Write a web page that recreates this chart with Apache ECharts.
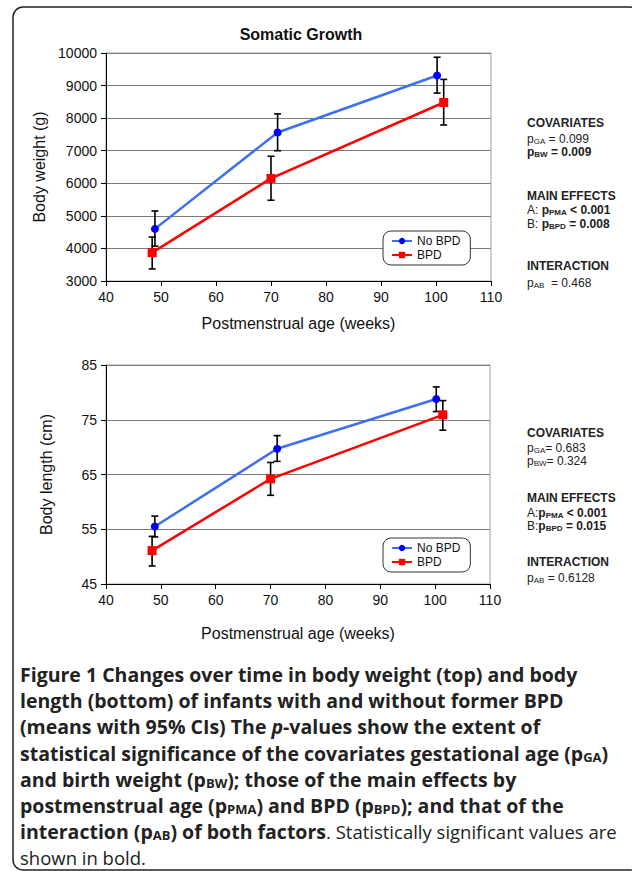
<!DOCTYPE html>
<html><head><meta charset="utf-8">
<script src="https://cdn.jsdelivr.net/npm/echarts@6/dist/echarts.min.js"></script>
<style>html,body{margin:0;padding:0;background:#fff}#c{width:632px;height:871px}</style>
</head><body><div id="c"></div>
<script>
// ---- data ----
const xTicksMin = 40, xTicksMax = 110, xTickStep = 10;
const weightTicks = { min: 3000, max: 10000, step: 1000 };
const lengthTicks = { min: 45, max: 85, step: 10 };
const seriesNames = ['No BPD', 'BPD'];
const ageNoBPD = [48.9, 71.2, 100.2];
const ageBPD = [48.4, 70.0, 101.4];
const weightNoBPD = [4600, 7560, 9310];
const weightNoBPDLow = [4070, 7000, 8770];
const weightNoBPDHigh = [5150, 8130, 9870];
const weightBPD = [3870, 6150, 8480];
const weightBPDLow = [3370, 5480, 7790];
const weightBPDHigh = [4350, 6830, 9190];
const lengthNoBPD = [55.5, 69.7, 78.8];
const lengthNoBPDLow = [53.6, 67.4, 76.5];
const lengthNoBPDHigh = [57.4, 72.1, 81.0];
const lengthBPD = [51.1, 64.2, 75.9];
const lengthBPDLow = [48.3, 61.2, 73.1];
const lengthBPDHigh = [53.7, 67.2, 78.5];

const F = '"Liberation Sans", Arial, sans-serif';
const CF = '"Open Sans", sans-serif';
const zip = (a, b) => a.map((v, i) => [v, b[i]]);
const zip3 = (a, b, c) => a.map((v, i) => [v, b[i], c[i]]);

function errRender(params, api) {
  const x = api.value(0), lo = api.value(1), hi = api.value(2);
  const p1 = api.coord([x, lo]), p2 = api.coord([x, hi]);
  const w = 3.5, st = { stroke: '#000', lineWidth: 1.6 };
  return { type: 'group', children: [
    { type: 'line', shape: { x1: p1[0], y1: p1[1], x2: p2[0], y2: p2[1] }, style: st },
    { type: 'line', shape: { x1: p1[0] - w, y1: p1[1], x2: p1[0] + w, y2: p1[1] }, style: st },
    { type: 'line', shape: { x1: p2[0] - w, y1: p2[1], x2: p2[0] + w, y2: p2[1] }, style: st }
  ]};
}

function xAx(gi, gap) {
  return { type: 'value', gridIndex: gi, min: xTicksMin, max: xTicksMax, interval: xTickStep,
    axisLine: { show: true, onZero: false, lineStyle: { color: '#000', width: 1 } },
    axisTick: { show: true, length: 5, lineStyle: { color: '#000' } },
    axisLabel: { fontSize: 14, color: '#111', margin: 9, fontFamily: F, formatter: v => String(v) },
    splitLine: { show: false },
    name: 'Postmenstrual age (weeks)', nameLocation: 'middle', nameGap: gap,
    nameTextStyle: { fontSize: 16, color: '#111', fontFamily: F } };
}
function yAx(gi, t, name) {
  return { type: 'value', gridIndex: gi, min: t.min, max: t.max, interval: t.step,
    axisLine: { show: true, onZero: false, lineStyle: { color: '#000', width: 1 } },
    axisTick: { show: true, length: 5, lineStyle: { color: '#000' } },
    axisLabel: { fontSize: 14, color: '#111', margin: 9, fontFamily: F, formatter: v => String(v) },
    splitLine: { show: true, lineStyle: { color: '#7a7a7a', width: 1 } },
    name: name, nameLocation: 'middle', nameGap: 52, nameRotate: 90,
    nameTextStyle: { fontSize: 16, color: '#111', fontFamily: F } };
}
function lineS(name, gi, xs, ys) {
  const blue = name === 'No BPD';
  return { type: 'line', name: name, xAxisIndex: gi, yAxisIndex: gi, data: zip(xs, ys),
    symbol: blue ? 'circle' : 'rect', symbolSize: blue ? 8 : 9,
    lineStyle: { color: blue ? '#3d6ff5' : '#ff0000', width: 2.5 },
    itemStyle: { color: blue ? '#0000ff' : '#ff0000' }, z: 4, animation: false };
}
function errS(gi, xs, lo, hi) {
  return { type: 'custom', xAxisIndex: gi, yAxisIndex: gi, data: zip3(xs, lo, hi),
    renderItem: errRender, z: 3, silent: true, animation: false,
    encode: { x: 0, y: [1, 2] } };
}
function legendAt(top) {
  return { orient: 'vertical', left: 383, top: top, data: seriesNames, selectedMode: false,
    itemWidth: 20, itemHeight: 8, itemGap: 2, padding: [4, 10, 4, 8],
    borderColor: '#333', borderWidth: 1, borderRadius: 8, backgroundColor: '#fff',
    textStyle: { fontSize: 12, color: '#111', fontFamily: F } };
}
function txt(x, y, text, rich, ff) {
  return { type: 'text', x: x, y: y, style: { text: text, rich: rich, verticalAlign: 'middle', align: 'left',
    fontFamily: ff || F, fontSize: 12, fill: '#222' } };
}
const annRich = {
  h: { fontFamily: F, fontSize: 12, fontWeight: 'bold', color: '#222' },
  r: { fontFamily: F, fontSize: 12, color: '#222', verticalAlign: 'bottom', lineHeight: 14 },
  rs: { fontFamily: F, fontSize: 8, color: '#222', verticalAlign: 'bottom', lineHeight: 11 },
  b: { fontFamily: F, fontSize: 12, fontWeight: 'bold', color: '#222', verticalAlign: 'bottom', lineHeight: 14 },
  bs: { fontFamily: F, fontSize: 8, fontWeight: 'bold', color: '#222', verticalAlign: 'bottom', lineHeight: 11 }
};
const CB = 19.5, CR = 18.5;
const capRich = {
  b: { fontFamily: CF, fontSize: CB, fontWeight: 'bold', color: '#231f20', lineHeight: 22, verticalAlign: 'bottom' },
  bi: { fontFamily: CF, fontSize: CB, fontWeight: 'bold', fontStyle: 'italic', color: '#231f20', lineHeight: 22, verticalAlign: 'bottom' },
  bs: { fontFamily: CF, fontSize: 13, fontWeight: 'bold', color: '#231f20', lineHeight: 16, verticalAlign: 'bottom' },
  r: { fontFamily: CF, fontSize: CR, color: '#2b2728', lineHeight: 22, verticalAlign: 'bottom' }
};
const capLines = [
  '{b|Figure 1 Changes over time in body weight (top) and body}',
  '{b|length (bottom) of infants with and without former BPD}',
  '{b|(means with 95% CIs) The }{bi|p}{b|-values show the extent of}',
  '{b|statistical significance of the covariates gestational age (p}{bs|GA}{b|)}',
  '{b|and birth weight (p}{bs|BW}{b|); those of the main effects by}',
  '{b|postmenstrual age (p}{bs|PMA}{b|) and BPD (p}{bs|BPD}{b|); and that of the}',
  '{b|interaction (p}{bs|AB}{b|) of both factors}{r|. Statistically significant values are}',
  '{r|shown in bold.}'
];
const capY = [673, 699, 725, 752, 778, 804, 830, 856];

const graphics = [
  { type: 'rect', shape: { x: 13, y: 7, width: 627, height: 863, r: 10 }, style: { fill: 'none', stroke: '#222', lineWidth: 1.5 }, z: 10 },
  txt(527, 123, '{h|COVARIATES}', annRich),
  txt(527, 138, '{r|p}{rs|GA}{r| = 0.099}', annRich),
  txt(527, 151, '{b|p}{bs|BW}{b| = 0.009}', annRich),
  txt(527, 196, '{h|MAIN EFFECTS}', annRich),
  txt(527, 209, '{r|A: }{b|p}{bs|PMA}{b| < 0.001}', annRich),
  txt(527, 223, '{r|B: }{b|p}{bs|BPD}{b| = 0.008}', annRich),
  txt(527, 266, '{h|INTERACTION}', annRich),
  txt(527, 282, '{r|p}{rs|AB}{r|  = 0.468}', annRich),
  txt(527, 433, '{h|COVARIATES}', annRich),
  txt(527, 447, '{r|p}{rs|GA}{r|= 0.683}', annRich),
  txt(527, 460, '{r|p}{rs|BW}{r|= 0.324}', annRich),
  txt(527, 498, '{h|MAIN EFFECTS}', annRich),
  txt(527, 512, '{r|A:}{b|p}{bs|PMA}{b| < 0.001}', annRich),
  txt(527, 525, '{r|B:}{b|p}{bs|BPD}{b| = 0.015}', annRich),
  txt(527, 562, '{h|INTERACTION}', annRich),
  txt(527, 577, '{r|p}{rs|AB}{r| = 0.6128}', annRich)
];
capLines.forEach((l, i) => graphics.push(txt(20, capY[i], l, capRich, CF)));

const chart = echarts.init(document.getElementById('c'), null, { renderer: 'svg' });
chart.setOption({
  animation: false,
  backgroundColor: '#fff',
  title: { text: 'Somatic Growth', left: 296, top: 21, textAlign: 'center',
    textStyle: { fontSize: 16, fontWeight: 'bold', color: '#111', fontFamily: F } },
  grid: [
    { left: 106, top: 53, width: 385, height: 228, show: true, borderColor: '#a0a0a0', borderWidth: 1, outerBoundsMode: 'none' },
    { left: 106, top: 365, width: 384, height: 219, show: true, borderColor: '#a0a0a0', borderWidth: 1, outerBoundsMode: 'none' }
  ],
  xAxis: [xAx(0, 34), xAx(1, 41)],
  yAxis: [yAx(0, weightTicks, 'Body weight (g)'), yAx(1, lengthTicks, 'Body length (cm)')],
  legend: [legendAt(231), legendAt(538)],
  series: [
    errS(0, ageNoBPD, weightNoBPDLow, weightNoBPDHigh),
    errS(0, ageBPD, weightBPDLow, weightBPDHigh),
    lineS('No BPD', 0, ageNoBPD, weightNoBPD),
    lineS('BPD', 0, ageBPD, weightBPD),
    errS(1, ageNoBPD, lengthNoBPDLow, lengthNoBPDHigh),
    errS(1, ageBPD, lengthBPDLow, lengthBPDHigh),
    lineS('No BPD', 1, ageNoBPD, lengthNoBPD),
    lineS('BPD', 1, ageBPD, lengthBPD)
  ],
  graphic: graphics
});
</script></body></html>
